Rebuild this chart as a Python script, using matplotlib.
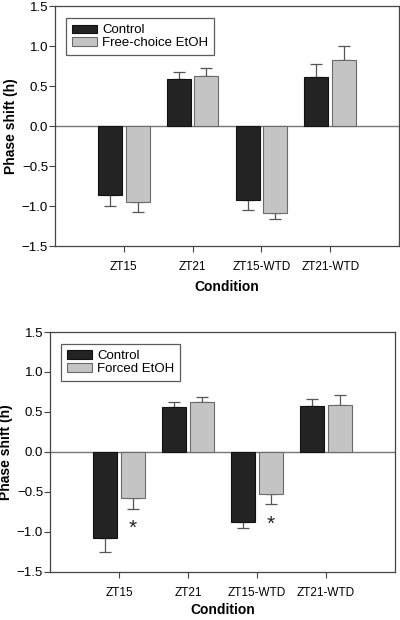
import numpy as np
import matplotlib
matplotlib.use('Agg')
import matplotlib.pyplot as plt

# Chart data
conditions = ['ZT15', 'ZT21', 'ZT15-WTD', 'ZT21-WTD']

top_control = [-0.86, 0.59, -0.93, 0.61]
top_control_err = [0.14, 0.09, 0.12, 0.16]
top_etoh = [-0.95, 0.62, -1.09, 0.83]
top_etoh_err = [0.125, 0.10, 0.07, 0.17]

bottom_control = [-1.08, 0.56, -0.88, 0.58]
bottom_control_err = [0.175, 0.07, 0.07, 0.08]
bottom_etoh = [-0.57, 0.62, -0.53, 0.59]
bottom_etoh_err = [0.14, 0.065, 0.12, 0.12]

# significance stars (condition index, y of star top)
star_idx = [0, 2]
star_y = [-0.84, -0.78]

plt.rcParams['font.family'] = ['Liberation Sans', 'DejaVu Sans']

DARK = '#232323'
LIGHT = '#c4c4c4'
AXIS = '#444444'


def draw_panel(ax, control, control_err, etoh, etoh_err, etoh_label,
               stars=False, xlabelpad=6):
    x = np.arange(1, len(conditions) + 1)
    w = 0.35
    off = 0.2
    ax.axhline(0, color='#777777', lw=1.0, zorder=1)
    ax.bar(x - off, control, w, color=DARK, edgecolor='#111111', lw=0.8,
           label='Control', zorder=3)
    ax.bar(x + off, etoh, w, color=LIGHT, edgecolor='#6a6a6a', lw=0.8,
           label=etoh_label, zorder=3)

    # one-sided error bars, pointing away from zero
    for xs, vals, errs in [(x - off, control, control_err), (x + off, etoh, etoh_err)]:
        vals = np.array(vals)
        errs = np.array(errs)
        lower = np.where(vals < 0, errs, 0)
        upper = np.where(vals > 0, errs, 0)
        ax.errorbar(xs, vals, yerr=[lower, upper], fmt='none', ecolor='#555555',
                    elinewidth=0.9, capsize=4, capthick=0.9, zorder=2)

    if stars:
        for i, sy in zip(star_idx, star_y):
            ax.text(x[i] + off, sy, '*', ha='center', va='top', fontsize=15,
                    color='#222222')

    ax.set_xlim(0, 5)
    ax.set_ylim(-1.5, 1.5)
    ax.set_yticks([-1.5, -1.0, -0.5, 0.0, 0.5, 1.0, 1.5])
    ax.set_yticklabels(['\u22121.5', '\u22121.0', '\u22120.5', '0.0', '0.5', '1.0', '1.5'])
    ax.set_xticks(x)
    ax.set_xticklabels(conditions, fontsize=8.5)
    ax.tick_params(axis='y', labelsize=9.5, direction='out', length=4, color=AXIS,
                   width=0.8, pad=1)
    ax.tick_params(axis='x', direction='out', length=4, color=AXIS, width=0.8, pad=7)
    for s in ax.spines.values():
        s.set_color(AXIS)
        s.set_linewidth(0.9)
    ax.set_ylabel('Phase shift (h)', fontsize=10, fontweight='bold', labelpad=3)
    ax.set_xlabel('Condition', fontsize=10, fontweight='bold', labelpad=xlabelpad)
    leg = ax.legend(loc='upper left', bbox_to_anchor=(0.02, 0.965), fontsize=9.5,
                    frameon=True, fancybox=False, edgecolor='#333333',
                    handlelength=1.9, handleheight=0.6, labelspacing=0.05,
                    handletextpad=0.4, borderpad=0.45, borderaxespad=0.3)
    leg.get_frame().set_linewidth(0.9)


fig = plt.figure(figsize=(4, 6.2), dpi=100)
ax1 = fig.add_axes([0.1375, 0.6032, 0.86, 0.387])
ax2 = fig.add_axes([0.125, 0.0775, 0.8625, 0.387])

draw_panel(ax1, top_control, top_control_err, top_etoh, top_etoh_err,
           'Free-choice EtOH', xlabelpad=5)
draw_panel(ax2, bottom_control, bottom_control_err, bottom_etoh, bottom_etoh_err,
           'Forced EtOH', stars=True, xlabelpad=3)

fig.savefig('out.png', dpi=100)
